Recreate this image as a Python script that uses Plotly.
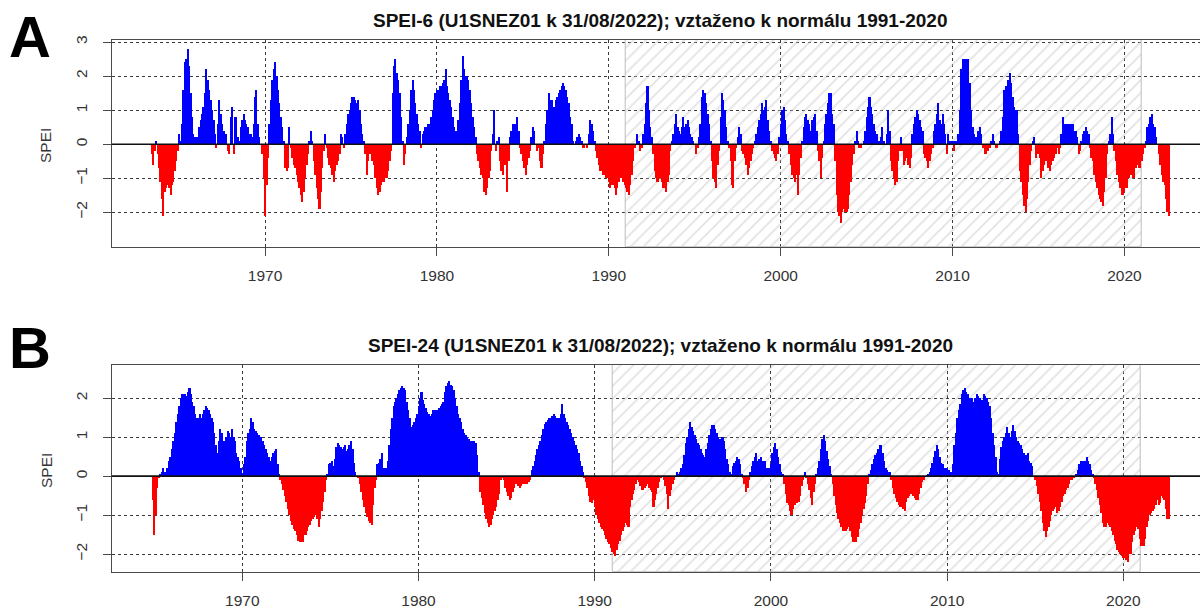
import plotly.graph_objects as go

# ---------------- data ----------------
TITLE_A = "SPEI-6 (U1SNEZ01 k 31/08/2022); vztaženo k normálu 1991-2020"
TITLE_B = "SPEI-24 (U1SNEZ01 k 31/08/2022); vztaženo k normálu 1991-2020"
YEAR_TICKS = [1970, 1980, 1990, 2000, 2010, 2020]
YTICKS_A = [-2, -1, 0, 1, 2, 3]
YTICKS_B = [-2, -1, 0, 1, 2]
NORMAL_PERIOD = [1991, 2021]

# SPEI-6, monthly, first value June 1963
SPEI6_START = (1963, 6)
spei6_1960s = [
    -0.3, -0.6, -0.2, 0.1, -0.3, -0.7, -1.1,                           # 1963 Jun-Dec
    -1.6, -2.1, -1.4, -1.3, -1.2, -1.3, -1.5, -1.2, -1.1, -0.8, -0.5, -0.2,  # 1964
    0.3, 0.1, 0.6, 1.6, 2.4, 2.5, 2.8, 2.3, 1.5, 0.8, 0.3, 0.2,       # 1965
    0.2, 0.2, 0.5, 0.7, 0.9, 1.1, 1.5, 2.2, 1.9, 1.6, 1.3, 1.0,       # 1966
    0.7, 0.3, -0.1, 0.6, 1.3, 0.9, 0.6, 0.4, 0.3, 0.3, -0.2, -0.3,    # 1967
    0.8, 1.1, -0.3, 0.8, 0.8, 0.2, 0.1, 0.5, 0.7, 0.9, 0.7, 0.6,      # 1968
    0.5, 0.3, 0.3, 0.2, 0.6, 1.4, 1.6, 0.6, 0.2, 0.0, -0.3, -1.0,     # 1969
]
spei6_1970s = [
    -2.1, -1.2, -0.4, 0.6, 1.3, 1.9, 2.2, 2.4, 2.0, 1.6, 1.2, 0.8,    # 1970
    0.5, 0.1, -0.7, -0.8, -0.7, 0.5, -0.1, -0.4, -0.6, -0.7, -0.9, -1.1,  # 1971
    -1.3, -1.5, -1.7, -1.4, -1.0, -0.6, -0.3, 0.1, 0.4, 0.1, -0.5, -0.9,  # 1972
    -1.3, -1.6, -1.9, -1.4, -0.7, -0.2, 0.3, -0.1, -0.4, -0.6, -0.7, -0.9,  # 1973
    -1.1, -0.8, -0.6, -0.5, -0.3, 0.3, 0.2, -0.1, 0.3, 0.6, 0.9, 1.0,  # 1974
    1.2, 1.4, 1.4, 1.3, 1.2, 1.3, 1.0, 0.6, 0.3, 0.1, -0.3, -0.9,     # 1975
    -0.5, -0.3, -0.3, -0.5, -0.6, -1.0, -1.3, -1.5, -1.4, -1.2, -1.1, -1.1,  # 1976
    -1.0, -1.0, -0.8, -0.5, -0.2, 1.5, 2.3, 2.5, 2.1, 1.9, 1.5, 0.8,  # 1977
    0.1, -0.6, -0.3, 0.2, 0.6, 1.0, 1.6, 1.9, 1.6, 1.2, 0.9, 0.6,     # 1978
    0.4, -0.1, 0.3, 0.4, 0.5, 0.5, 0.6, 0.6, 0.8, 1.0, 1.3, 1.5,      # 1979
]
spei6_1980s = [
    1.6, 1.6, 1.7, 1.7, 1.8, 1.9, 2.2, 1.7, 1.5, 1.3, 1.1, 0.8,       # 1980
    0.5, 0.4, 0.4, 0.7, 1.2, 1.9, 2.6, 2.2, 2.0, 2.0, 1.9, 1.6,       # 1981
    1.2, 0.8, 0.5, 0.2, -0.3, -0.5, -0.7, -0.9, -1.0, -1.4, -1.5, -1.3,  # 1982
    -1.0, -0.8, -0.2, 0.3, 1.0, -0.2, 0.1, 0.2, -0.5, -0.8, -0.9, -0.6,  # 1983
    -0.6, -1.4, -0.5, 0.2, 0.4, 0.6, 0.6, 0.6, 0.8, 0.4, -0.1, -0.3,  # 1984
    -0.5, -0.7, -0.9, -0.6, -0.4, -0.2, 0.2, 0.5, 0.4, 0.0, -0.2, -0.1,  # 1985
    -0.5, -0.7, -0.3, 0.1, 0.6, 1.0, 1.5, 1.2, 1.3, 1.0, 1.1, 1.3,    # 1986
    1.4, 1.5, 1.6, 1.7, 1.8, 1.7, 1.6, 1.4, 1.2, 0.8, 0.6, 0.1,       # 1987
    0.0, 0.1, 0.2, 0.3, 0.2, 0.1, -0.1, -0.1, 0.0, -0.1, 0.3, 0.7,    # 1988
    0.6, 0.4, 0.1, -0.2, -0.4, -0.6, -0.8, -0.8, -0.9, -0.9, -1.0, -1.0,  # 1989
]
spei6_1990s = [
    -1.1, -1.3, -1.2, -1.2, -1.3, -1.5, -1.3, -1.1, -1.0, -1.0, -1.1, -1.2,  # 1990
    -1.3, -1.4, -1.5, -1.2, -0.9, -0.5, -0.1, 0.0, 0.3, 0.1, -0.2, -0.1,  # 1991
    0.3, 0.6, 1.2, 1.7, 1.0, 0.5, 0.2, -0.3, -0.8, -1.0, -1.1, -1.0,  # 1992
    -1.0, -1.1, -1.3, -1.3, -1.4, -1.1, -0.9, -0.2, 0.1, 0.3, 0.6, 0.9,  # 1993
    0.5, 0.4, 0.3, 0.5, 0.8, 0.5, 0.6, 0.7, 0.5, 0.3, 0.2, 0.1,       # 1994
    0.0, -0.3, -0.1, 0.2, 0.6, 1.4, 1.6, 1.5, 1.2, 0.9, 0.6, 0.1,     # 1995
    -0.5, -1.0, -1.1, -1.3, -0.6, -0.2, 0.8, 1.5, 1.3, 1.0, 0.5, 0.1,  # 1996
    -0.1, -0.5, -1.2, -1.3, -0.5, -0.1, 0.2, 0.5, 0.3, -0.2, -0.3, -0.4,  # 1997
    -0.6, -0.9, -0.7, -0.5, -0.3, -0.1, 0.1, 0.3, 0.5, 0.7, 0.9, 1.2,  # 1998
    1.0, 1.1, 1.3, 0.7, 0.4, 0.1, -0.2, -0.3, -0.4, -0.5, -0.3, 0.2,  # 1999
]
spei6_2000s = [
    0.6, 1.0, 1.1, 0.7, 0.3, 0.1, -0.3, -0.6, -0.9, -1.0, -1.1, -0.9,  # 2000
    -1.5, -0.9, -0.4, 0.1, 0.5, 0.8, 0.9, 0.7, 0.6, 0.4, 0.7, 0.8,    # 2001
    0.9, 0.4, -0.2, -0.5, -1.0, -0.4, 0.1, 0.6, 0.9, 1.2, 1.5, 1.5,   # 2002
    0.9, 0.6, -0.5, -1.5, -2.0, -2.1, -2.3, -2.0, -1.9, -2.0, -2.0, -1.9,  # 2003
    -1.5, -1.1, -0.6, -0.3, 0.1, 0.4, 0.1, -0.1, -0.1, 0.0, 0.1, 0.4,  # 2004
    0.8, 1.1, 1.4, 1.1, 0.9, 0.6, 0.4, 0.3, 0.1, 0.1, 0.2, 0.5,       # 2005
    0.1, 0.0, 0.3, 1.0, 0.4, -0.5, -0.8, -1.0, -1.2, -1.1, -0.5, -0.2,  # 2006
    0.2, -0.2, -0.6, -0.5, -0.4, -0.6, -0.7, -0.4, 0.3, 0.6, 0.8, 1.0,  # 2007
    0.9, 0.7, 0.5, 0.4, -0.3, -0.4, -0.5, -0.7, -0.5, -0.3, -0.1, 0.4,  # 2008
    0.6, 0.9, 1.2, 0.7, 0.6, 0.9, 0.6, 0.3, -0.3, 0.3, 0.1, 0.1,      # 2009
]
spei6_2010s = [
    0.1, -0.2, 0.1, 0.1, 0.3, 1.0, 2.2, 2.5, 2.5, 2.5, 2.5, 2.5,      # 2010
    1.8, 1.0, 0.5, 0.3, 0.2, 0.2, 0.4, 0.5, 0.3, -0.1, -0.1, -0.3,    # 2011
    -0.2, -0.2, -0.1, 0.1, 0.3, 0.1, -0.1, -0.1, 0.0, 0.1, 0.4, 0.8,  # 2012
    1.6, 1.7, 1.7, 1.9, 2.1, 1.8, 1.4, 1.1, 1.0, 1.0, 0.3, -0.8,      # 2013
    -1.1, -1.5, -1.8, -2.0, -1.6, -1.1, -0.6, -0.2, 0.1, 0.2, -0.4, -0.1,  # 2014
    -0.3, -0.4, -1.0, -0.8, -0.6, -0.5, -0.5, -0.7, -0.8, -0.6, -0.5, -0.4,  # 2015
    -0.3, -0.1, -0.3, -0.1, 0.3, 0.8, 0.6, 0.6, 0.6, 0.6, 0.5, 0.6,   # 2016
    0.6, 0.4, 0.4, 0.2, -0.3, -0.2, 0.1, 0.3, 0.4, 0.5, 0.4, 0.3,     # 2017
    -0.1, -0.4, -0.5, -0.9, -1.1, -1.3, -1.5, -1.6, -1.7, -1.8, -1.4, -1.0,  # 2018
    -0.3, 0.1, 0.3, 0.8, 0.3, -0.2, -0.5, -0.9, -1.1, -1.3, -1.5, -1.5,  # 2019
]
spei6_2020s = [
    -1.4, -1.3, -1.3, -1.0, -0.9, -0.9, -1.0, -1.0, -0.7, -0.6, -0.7, -0.7,  # 2020
    -0.5, -0.3, -0.1, 0.1, 0.5, 0.6, 0.8, 0.9, 0.6, 0.5, 0.2, 0.0,    # 2021
    -0.3, -0.6, -0.9, -1.1, -1.2, -1.6, -2.0, -2.1,                   # 2022 Jan-Aug
]

# SPEI-24, monthly, first value December 1964
SPEI24_START = (1964, 12)
spei24_1960s = [
    -0.6,                                                              # 1964 Dec
    -1.5, -1.0, -0.3, -0.05, 0.05, 0.1, 0.2, 0.1, 0.1, 0.2, 0.4, 0.5,  # 1965
    0.7, 0.9, 1.1, 1.4, 1.6, 1.8, 2.0, 2.1, 2.1, 2.1, 2.05, 2.15,     # 1966
    2.25, 2.1, 1.9, 1.8, 1.6, 1.5, 1.5, 1.6, 1.5, 1.6, 1.7, 1.8,      # 1967
    1.75, 1.7, 1.6, 1.5, 1.4, 1.1, 0.8, 0.6, 0.9, 1.2, 1.1, 0.9,      # 1968
    0.9, 1.0, 1.15, 1.1, 1.0, 1.2, 1.0, 0.9, 0.6, 0.5, 0.4, 0.2,      # 1969
]
spei24_1970s = [
    0.05, 0.3, 0.5, 0.9, 1.1, 1.2, 1.5, 1.4, 1.2, 1.15, 1.1, 1.05,    # 1970
    1.0, 1.0, 0.9, 0.8, 0.7, 0.6, 0.5, 0.4, 0.5, 0.6, 0.65, 0.7,      # 1971
    0.3, 0.05, -0.1, -0.2, -0.35, -0.5, -0.65, -0.85, -1.0, -1.15, -1.25, -1.35,  # 1972
    -1.4, -1.5, -1.65, -1.7, -1.6, -1.7, -1.45, -1.5, -1.4, -1.3, -1.25, -1.15,  # 1973
    -1.1, -1.05, -1.0, -1.1, -1.3, -1.1, -0.9, -0.65, -0.4, -0.1, 0.05, 0.3,  # 1974
    0.35, 0.4, 0.25, 0.45, 0.75, 0.85, 0.8, 0.75, 0.7, 0.75, 0.8, 0.65,  # 1975
    0.7, 0.8, 0.9, 0.7, 0.35, 0.1, 0.0, -0.05, -0.2, -0.4, -0.6, -0.8,  # 1976
    -0.95, -1.05, -1.15, -1.2, -1.25, -0.75, -0.3, -0.1, 0.3, 0.35, 0.45, 0.6,  # 1977
    0.2, 0.2, 0.2, 0.4, 0.8, 1.2, 1.5, 1.8, 1.9, 2.0, 2.1, 2.2,       # 1978
    2.25, 2.3, 2.25, 2.2, 1.9, 1.7, 1.5, 1.25, 1.3, 1.4, 1.5, 1.6,    # 1979
]
spei24_1980s = [
    1.8, 2.0, 2.15, 1.95, 1.85, 1.75, 1.65, 1.6, 1.55, 1.6, 1.7, 1.7,  # 1980
    1.7, 1.7, 1.75, 1.8, 1.85, 1.9, 2.15, 2.3, 2.4, 2.45, 2.35, 2.3,  # 1981
    2.2, 2.0, 1.8, 1.6, 1.5, 1.4, 1.2, 1.1, 1.05, 1.0, 0.95, 0.9,     # 1982
    0.9, 0.9, 0.9, 0.85, 0.55, 0.1, -0.4, -0.55, -0.75, -0.95, -1.1, -1.2,  # 1983
    -1.3, -1.25, -1.1, -1.0, -0.9, -0.8, -0.6, -0.45, -0.1, -0.05, -0.1, -0.3,  # 1984
    -0.4, -0.5, -0.6, -0.55, -0.4, -0.3, -0.2, -0.2, -0.25, -0.3, -0.25, -0.2,  # 1985
    -0.2, -0.2, -0.2, -0.15, -0.1, 0.15, 0.25, 0.4, 0.55, 0.7, 0.8, 0.9,  # 1986
    1.05, 1.2, 1.35, 1.4, 1.45, 1.5, 1.5, 1.55, 1.6, 1.55, 1.5, 1.5,  # 1987
    1.5, 1.6, 1.85, 1.6, 1.5, 1.4, 1.3, 1.2, 1.1, 1.0, 0.9, 0.8,      # 1988
    0.7, 0.6, 0.4, 0.25, 0.1, -0.05, -0.15, -0.3, -0.5, -0.65, -0.7, -0.6,  # 1989
]
spei24_1990s = [
    -0.8, -1.0, -1.1, -1.2, -1.3, -1.35, -1.4, -1.5, -1.6, -1.7, -1.75, -1.85,  # 1990
    -1.95, -2.0, -2.05, -1.9, -1.75, -1.65, -1.5, -1.4, -1.3, -1.2, -1.25, -1.3,  # 1991
    -0.8, -0.6, -0.45, -0.35, -0.2, -0.1, -0.15, -0.25, -0.35, -0.35, -0.3, -0.25,  # 1992
    -0.2, -0.3, -0.35, -0.4, -0.8, -0.6, -0.45, -0.3, -0.15, -0.05, 0.0, -0.1,  # 1993
    -0.25, -0.45, -0.85, -0.5, -0.35, -0.2, -0.1, 0.0, 0.1, 0.05, 0.1, 0.2,  # 1994
    0.3, 0.55, 0.85, 1.0, 1.2, 1.4, 1.25, 1.15, 1.05, 0.95, 0.85, 0.8,  # 1995
    0.7, 0.6, 0.55, 0.5, 0.7, 0.85, 1.05, 1.2, 1.3, 1.3, 1.2, 1.1,    # 1996
    1.0, 0.95, 0.9, 1.0, 0.9, 0.7, 0.45, 0.3, 0.1, 0.05, 0.25, 0.35,  # 1997
    0.4, 0.5, 0.45, 0.3, 0.05, -0.05, -0.2, -0.4, -0.3, -0.1, 0.1, 0.25,  # 1998
    0.4, 0.5, 0.6, 0.4, 0.45, 0.5, 0.4, 0.4, 0.4, 0.2, 0.2, 0.2,      # 1999
]
spei24_2000s = [
    0.3, 0.6, 0.75, 0.85, 0.7, 0.5, 0.3, 0.1, 0.05, -0.2, -0.45, -0.7,  # 2000
    -0.75, -0.9, -1.0, -0.85, -0.75, -0.7, -0.7, -0.65, -0.5, -0.25, -0.1, 0.1,  # 2001
    -0.05, -0.2, -0.35, -0.55, -0.75, -0.4, -0.2, 0.05, 0.2, 0.4, 0.7, 0.95,  # 2002
    1.05, 0.9, 0.65, 0.45, 0.25, 0.05, -0.2, -0.5, -0.75, -0.95, -1.1, -1.2,  # 2003
    -1.3, -1.4, -1.4, -1.4, -1.35, -1.3, -1.4, -1.55, -1.7, -1.7, -1.7, -1.55,  # 2004
    -1.35, -1.2, -1.0, -0.85, -0.7, -0.5, -0.2, 0.05, 0.15, 0.3, 0.45, 0.55,  # 2005
    0.6, 0.7, 0.8, 0.8, 0.6, 0.4, 0.2, 0.15, 0.1, 0.1, -0.1, -0.3,    # 2006
    -0.45, -0.55, -0.65, -0.75, -0.8, -0.8, -0.85, -0.9, -0.65, -0.55, -0.5, -0.45,  # 2007
    -0.4, -0.5, -0.55, -0.6, -0.6, -0.45, -0.3, -0.15, -0.1, 0.0, 0.02, 0.05,  # 2008
    0.1, 0.2, 0.35, 0.5, 0.65, 0.8, 0.7, 0.5, 0.35, 0.3, 0.2, 0.2,    # 2009
]
spei24_2010s = [
    0.2, 0.15, 0.1, 0.1, 0.3, 0.8, 1.1, 1.5, 1.7, 1.85, 2.1, 2.2,     # 2010
    2.25, 2.15, 2.1, 2.0, 2.0, 2.0, 1.9, 2.0, 2.1, 2.05, 2.0, 1.9,    # 2011
    1.95, 2.1, 2.05, 2.0, 1.9, 1.8, 1.5, 1.1, 0.8, 0.5, 0.1, 0.05,    # 2012
    0.45, 0.75, 0.9, 1.0, 1.1, 1.25, 1.1, 1.0, 1.15, 1.3, 1.15, 1.0,  # 2013
    0.9, 0.85, 0.8, 0.7, 0.6, 0.5, 0.55, 0.6, 0.4, 0.35, 0.25, 0.0,   # 2014
    -0.1, -0.25, -0.45, -0.65, -0.9, -1.2, -1.4, -1.55, -1.4, -1.3, -1.15, -1.0,  # 2015
    -0.9, -0.85, -0.8, -0.95, -0.9, -0.8, -0.65, -0.5, -0.45, -0.35, -0.3, -0.2,  # 2016
    -0.1, -0.1, -0.05, -0.02, 0.05, 0.15, 0.3, 0.4, 0.4, 0.4, 0.4, 0.5,  # 2017
    0.4, 0.3, 0.15, 0.05, -0.05, -0.2, -0.35, -0.55, -0.75, -0.95, -1.2, -1.3,  # 2018
    -1.3, -1.2, -1.25, -1.3, -1.4, -1.5, -1.65, -1.75, -1.9, -1.95, -2.0, -2.05,  # 2019
]
spei24_2020s = [
    -2.1, -2.1, -2.15, -2.2, -2.0, -2.0, -1.7, -1.5, -1.4, -1.3, -1.35, -1.6,  # 2020
    -1.8, -1.8, -1.8, -1.6, -1.3, -1.15, -1.0, -0.95, -0.9, -0.85, -0.75, -0.6,  # 2021
    -0.75, -0.7, -0.5, -0.55, -0.6, -0.85, -1.1, -1.1,                # 2022 Jan-Aug
]

# ---------------- figure ----------------
W, H = 1200, 608
FONT = "Liberation Sans, Arial, Helvetica, sans-serif"
POS, NEG = "#0000ff", "#ff0000"


def monthly(start, *chunks):
    vals = [v for c in chunks for v in c]
    y0, m0 = start
    t = [y0 + (m0 - 1 + i) / 12.0 for i in range(len(vals))]
    return t, vals


tA, vA = monthly(SPEI6_START, spei6_1960s, spei6_1970s, spei6_1980s,
                 spei6_1990s, spei6_2000s, spei6_2010s, spei6_2020s)
tB, vB = monthly(SPEI24_START, spei24_1960s, spei24_1970s, spei24_1980s,
                 spei24_1990s, spei24_2000s, spei24_2010s, spei24_2020s)

panels = [
    dict(t=tA, v=vA, xr=[1961.08, 2024.40], yr=[-3.01, 3.06], yt=YTICKS_A,
         top=40.0, bot=246.7, xa="x", ya="y"),
    dict(t=tB, v=vB, xr=[1962.59, 2024.35], yr=[-2.45, 2.85], yt=YTICKS_B,
         top=365.0, bot=571.7, xa="x2", ya="y2"),
]

fig = go.Figure()
shapes = []
for p in panels:
    lo, hi = p["yr"]
    # hatched reference period 1991-2020
    fig.add_trace(go.Bar(
        x=[(NORMAL_PERIOD[0] + NORMAL_PERIOD[1]) / 2.0],
        y=[hi - lo], base=[lo], width=[NORMAL_PERIOD[1] - NORMAL_PERIOD[0]],
        marker=dict(color="rgba(255,255,255,0)",
                    line=dict(color="#bdbdbd", width=1),
                    pattern=dict(shape="/", fgcolor="#c6c6c6",
                                 bgcolor="rgba(255,255,255,0)",
                                 size=9, solidity=0.2)),
        xaxis=p["xa"], yaxis=p["ya"], hoverinfo="skip", showlegend=False))
    # monthly SPEI bars
    fig.add_trace(go.Bar(
        x=p["t"], y=p["v"], width=0.09,
        marker=dict(color=[POS if v >= 0 else NEG for v in p["v"]],
                    line=dict(width=0)),
        xaxis=p["xa"], yaxis=p["ya"], showlegend=False))
    shapes.append(dict(type="line", xref=p["xa"] + " domain", yref=p["ya"],
                       x0=0, x1=1, y0=0, y1=0, layer="above",
                       line=dict(color="#111111", width=1.6)))

axis_common = dict(
    showline=True, linecolor="#4a4a4a", linewidth=1.3,
    ticks="outside", ticklen=8, tickcolor="#4a4a4a", tickwidth=1.2,
    showgrid=True, gridcolor="#3a3a3a", gridwidth=1, griddash="dot",
    zeroline=False, tickfont=dict(family=FONT, size=15.5, color="#333333"),
    automargin=False,
)

xdom = [111.7 / W, 1.0]
for i, p in enumerate(panels):
    sfx = "" if i == 0 else "2"
    ydom = [1 - p["bot"] / H, 1 - p["top"] / H]
    fig.layout["xaxis" + sfx] = dict(
        axis_common, domain=xdom, range=p["xr"], anchor="y" + sfx,
        mirror=True, tickmode="array", tickvals=YEAR_TICKS,
        ticktext=[str(y) for y in YEAR_TICKS], ticklabelstandoff=7)
    fig.layout["yaxis" + sfx] = dict(
        axis_common, domain=ydom, range=p["yr"], anchor="x" + sfx,
        tickmode="array", tickvals=p["yt"], tickangle=-90,
        ticklabelstandoff=9)

annotations = [
    dict(text="<b>" + TITLE_A + "</b>", x=660 / W, y=1 - 21 / H),
    dict(text="<b>" + TITLE_B + "</b>", x=660 / W, y=1 - 345 / H),
]
annotations = [dict(a, xref="paper", yref="paper", showarrow=False,
                    xanchor="center", yanchor="middle",
                    font=dict(family=FONT, size=19, color="#111111"))
               for a in annotations]
for lab, yc in [("A", 37), ("B", 347)]:
    annotations.append(dict(text="<b>" + lab + "</b>", x=30 / W, y=1 - yc / H,
                            xref="paper", yref="paper", showarrow=False,
                            xanchor="center", yanchor="middle",
                            font=dict(family=FONT, size=58, color="#000000")))
for yc in [146, 471]:
    annotations.append(dict(text="SPEI", x=46 / W, y=1 - yc / H, textangle=-90,
                            xref="paper", yref="paper", showarrow=False,
                            xanchor="center", yanchor="middle",
                            font=dict(family=FONT, size=15.5, color="#333333")))

fig.update_layout(
    width=W, height=H, margin=dict(l=0, r=0, t=0, b=0, pad=0),
    paper_bgcolor="white", plot_bgcolor="white",
    barmode="overlay", bargap=0, showlegend=False,
    annotations=annotations, shapes=shapes,
)

fig.write_html("out.html")
